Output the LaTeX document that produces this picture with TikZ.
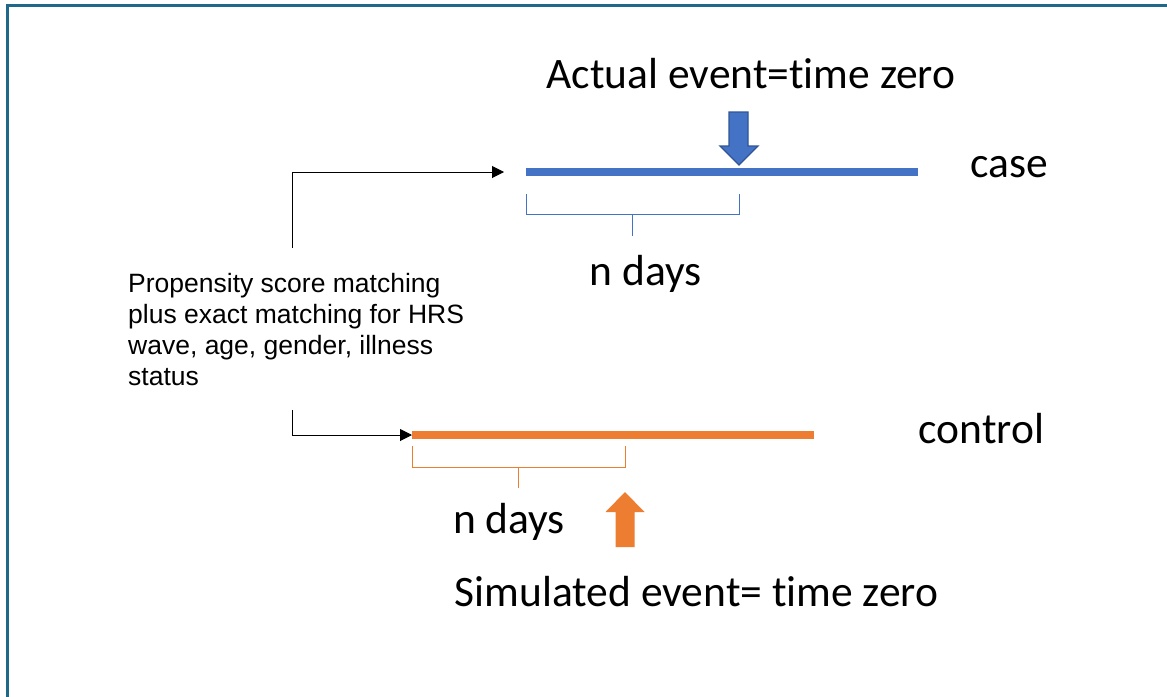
\documentclass[tikz,border=0pt]{standalone}
\usepackage{fontspec}
\setmainfont[Ligatures={NoCommon}]{Carlito}
\newfontfamily\arialfont{Liberation Sans}
\usetikzlibrary{arrows.meta}
\definecolor{frameblue}{RGB}{31,104,138}
\definecolor{caseblue}{RGB}{68,114,196}
\definecolor{casedark}{RGB}{47,85,151}
\definecolor{ctrlorange}{RGB}{237,125,49}
\tikzset{
  bigtext/.style={font=\fontsize{43.5}{52}\selectfont, inner sep=0pt, anchor=base},
  timeline/.style={line width=7.5pt},
  bracketline/.style={line width=1pt},
  connector/.style={draw=black, line width=1pt, -{Triangle[length=12pt,width=12pt]}},
}
\begin{document}
\begin{tikzpicture}[x=1pt,y=-1pt]
\useasboundingbox (0,0) rectangle (1167,696);
% frame
\draw[frameblue, line width=2.5pt] (7.5,710) -- (7.5,5.5) -- (1180,5.5);

% case timeline
\coordinate (cs) at (526,172);
\coordinate (ce) at (918,172);
\coordinate (cz) at (739,172);
\draw[timeline, caseblue] (cs) -- (ce);
\draw[bracketline, caseblue] (526,194) -- (526,214) -- (739,214) -- (739,194);
\draw[bracketline, caseblue] (632.5,214) -- (632.5,236);
\draw[fill=caseblue, draw=casedark, line width=1.3pt, line join=miter]
  (729,112) -- (748,112) -- (748,146) -- (758,146) -- (739,165) -- (720,146) -- (729,146) -- cycle;

\node[bigtext] (actual) at (751,88) {Actual event=time zero};
\node[bigtext] (case) at (1009.5,177) {case};
\node[bigtext] (ndays1) at (645.5,285) {n days};

% control timeline
\coordinate (os) at (412,435);
\coordinate (oe) at (814,435);
\draw[timeline, ctrlorange] (os) -- (oe);
\draw[bracketline, ctrlorange] (412,446) -- (412,467) -- (625,467) -- (625,446);
\draw[bracketline, ctrlorange] (518,467) -- (518,488);
\fill[ctrlorange]
  (625,492) -- (644.5,512) -- (634.5,512) -- (634.5,547) -- (615.5,547) -- (615.5,512) -- (605.5,512) -- cycle;

\node[bigtext] (control) at (981.5,443) {control};
\node[bigtext] (ndays2) at (509,533) {n days};
\node[bigtext] (simulated) at (696.5,606) {Simulated event= time zero};

% matching text
\node[font=\arialfont\fontsize{26.5}{31}\selectfont, align=left, anchor=north west, inner sep=0pt] (psm) at (128,273)
  {Propensity score matching\\plus exact matching for HRS\\wave, age, gender, illness\\status};

% connectors
\coordinate (up) at (292,248);
\coordinate (uptip) at (504,172);
\coordinate (dn) at (292,410);
\coordinate (dntip) at (412,435);
\draw[connector] (up) |- (uptip);
\draw[connector] (dn) |- (dntip);
\end{tikzpicture}
\end{document}
